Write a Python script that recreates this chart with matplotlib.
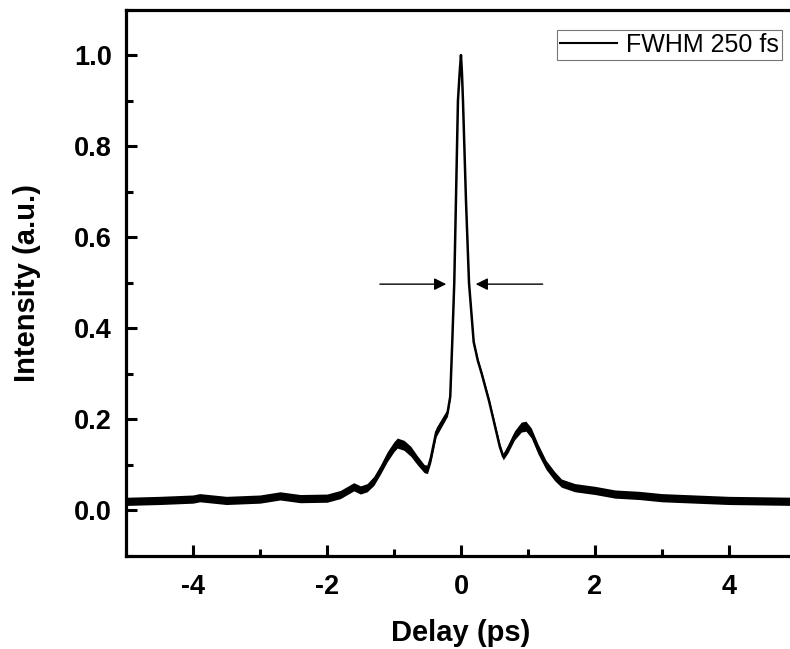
import matplotlib
matplotlib.use("Agg")
import matplotlib.pyplot as plt
from matplotlib.ticker import MultipleLocator
import numpy as np

plt.rcParams['font.family'] = ['Liberation Sans', 'DejaVu Sans']

# autocorrelation trace
delay = [-5.0, -4.5, -4.0, -3.9, -3.5, -3.0, -2.7, -2.4, -2.0, -1.8,
         -1.6, -1.5, -1.4, -1.3, -1.2, -1.1, -1.0, -0.95, -0.85, -0.75,
         -0.65, -0.55, -0.5, -0.45, -0.37, -0.28, -0.2, -0.16, -0.13, -0.1,
         -0.075, -0.045, -0.02, 0.0, 0.015, 0.03, 0.075, 0.12, 0.19, 0.25,
         0.31, 0.42, 0.5, 0.58, 0.63, 0.7, 0.8, 0.9, 0.97, 1.05,
         1.15, 1.27, 1.4, 1.5, 1.7, 2.0, 2.3, 2.66, 3.0, 3.5,
         4.0, 4.5, 5.0]
intensity = [0.020, 0.022, 0.025, 0.028, 0.022, 0.025, 0.032, 0.026, 0.027, 0.035,
             0.052, 0.045, 0.050, 0.065, 0.090, 0.118, 0.140, 0.148, 0.143, 0.130,
             0.110, 0.092, 0.090, 0.115, 0.172, 0.195, 0.215, 0.250, 0.370, 0.500,
             0.680, 0.900, 0.960, 1.000, 0.960, 0.900, 0.680, 0.500, 0.370, 0.330,
             0.300, 0.240, 0.190, 0.140, 0.118, 0.135, 0.165, 0.183, 0.185, 0.170,
             0.135, 0.100, 0.075, 0.060, 0.050, 0.044, 0.036, 0.033, 0.028, 0.025,
             0.022, 0.021, 0.020]
# half width of the noise band
noise = [0.009, 0.009, 0.009, 0.009, 0.009, 0.009, 0.009, 0.009, 0.009, 0.009,
         0.009, 0.009, 0.009, 0.010, 0.010, 0.011, 0.011, 0.011, 0.011, 0.011,
         0.010, 0.009, 0.009, 0.010, 0.010, 0.009, 0.008, 0.005, 0.003, 0.002,
         0.002, 0.002, 0.002, 0.002, 0.002, 0.002, 0.002, 0.002, 0.003, 0.004,
         0.005, 0.006, 0.006, 0.007, 0.007, 0.009, 0.010, 0.011, 0.011, 0.011,
         0.011, 0.010, 0.010, 0.009, 0.009, 0.009, 0.009, 0.009, 0.009, 0.009,
         0.009, 0.009, 0.009]

legend_label = "FWHM 250 fs"
half_max = 0.497
left_arrow = (-1.21, -0.22)
right_arrow = (1.22, 0.22)

fig = plt.figure(figsize=(7.9, 6.49), dpi=100)
ax = fig.add_axes([0.1595, 0.1433, 0.848, 0.842])

x = np.array(delay)
y = np.array(intensity)
w = np.array(noise)
ax.fill_between(x, y - w, y + w, color='k', lw=0)
ax.plot(x, y, color='k', lw=1.8, label=legend_label)

for x0, x1 in [left_arrow, right_arrow]:
    ax.annotate("", xy=(x1, half_max), xytext=(x0, half_max),
                arrowprops=dict(arrowstyle="-|>", color='k', lw=1.0,
                                mutation_scale=18, shrinkA=0, shrinkB=0))

ax.set_xlim(-5, 5)
ax.set_ylim(-0.1, 1.1)
ax.xaxis.set_major_locator(MultipleLocator(2))
ax.xaxis.set_minor_locator(MultipleLocator(1))
ax.yaxis.set_major_locator(MultipleLocator(0.2))
ax.yaxis.set_minor_locator(MultipleLocator(0.1))
ax.yaxis.set_major_formatter(matplotlib.ticker.FormatStrFormatter('%.1f'))
ax.xaxis.set_major_formatter(matplotlib.ticker.FuncFormatter(lambda v, p: "%d" % v))

for s in ax.spines.values():
    s.set_linewidth(2.3)
ax.tick_params(which='both', direction='in', top=False, right=False, width=2.2)
ax.tick_params(which='major', length=8, labelsize=19.5)
ax.tick_params(axis='y', which='major', pad=10)
ax.tick_params(axis='x', which='major', pad=13)
ax.tick_params(which='minor', length=5)
for lab in ax.get_xticklabels() + ax.get_yticklabels():
    lab.set_fontweight('bold')

ax.set_xlabel("Delay (ps)", fontsize=21, fontweight='bold', labelpad=14)
ax.set_ylabel("Intensity (a.u.)", fontsize=21, fontweight='bold', labelpad=24)

leg = ax.legend(loc='upper right', fontsize=18, frameon=True, fancybox=False,
                handlelength=2.3, handletextpad=0.35, borderpad=0.12,
                borderaxespad=0, bbox_to_anchor=(782 / 790, 1 - 30 / 649),
                bbox_transform=fig.transFigure)
leg.get_frame().set_edgecolor('#555555')
leg.get_frame().set_linewidth(0.8)
leg.get_lines()[0].set_linewidth(1.5)

fig.savefig("out.png", dpi=100)
